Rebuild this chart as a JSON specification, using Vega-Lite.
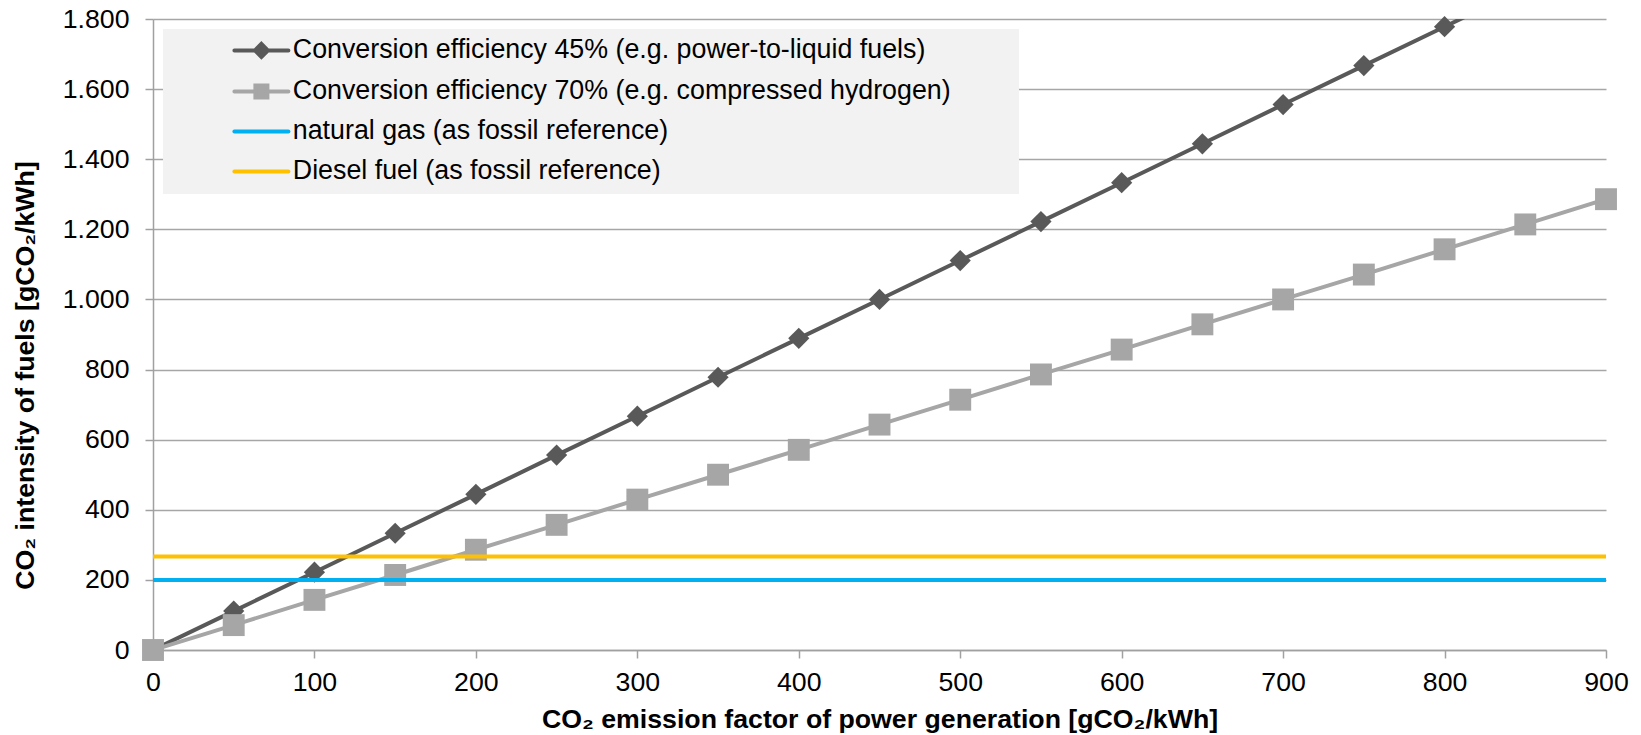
{
  "$schema": "https://vega.github.io/schema/vega-lite/v6.json",
  "width": 1453,
  "height": 631,
  "autosize": {"type": "none"},
  "padding": {"left": 153, "top": 19, "right": 35, "bottom": 85},
  "background": "#ffffff",
  "config": {
    "font": "Liberation Sans",
    "view": {"stroke": null},
    "axis": {
      "labelFont": "Liberation Sans",
      "labelFontSize": 26.7,
      "labelColor": "#000000",
      "titleFont": "Liberation Sans",
      "titleFontSize": 26.7,
      "titleFontWeight": "bold",
      "titleColor": "#000000",
      "tickColor": "#A0A0A0",
      "tickSize": 8,
      "tickWidth": 1.5,
      "domainColor": "#A0A0A0",
      "domainWidth": 1.5,
      "gridColor": "#A6A6A6",
      "gridWidth": 1.3,
      "labelFlush": false,
      "labelOverlap": false
    }
  },
  "data": {
    "values": [
      {"x": 0, "y": 0, "series": "Conversion efficiency 45% (e.g. power-to-liquid fuels)"},
      {"x": 50, "y": 111, "series": "Conversion efficiency 45% (e.g. power-to-liquid fuels)"},
      {"x": 100, "y": 222, "series": "Conversion efficiency 45% (e.g. power-to-liquid fuels)"},
      {"x": 150, "y": 333, "series": "Conversion efficiency 45% (e.g. power-to-liquid fuels)"},
      {"x": 200, "y": 444, "series": "Conversion efficiency 45% (e.g. power-to-liquid fuels)"},
      {"x": 250, "y": 556, "series": "Conversion efficiency 45% (e.g. power-to-liquid fuels)"},
      {"x": 300, "y": 667, "series": "Conversion efficiency 45% (e.g. power-to-liquid fuels)"},
      {"x": 350, "y": 778, "series": "Conversion efficiency 45% (e.g. power-to-liquid fuels)"},
      {"x": 400, "y": 889, "series": "Conversion efficiency 45% (e.g. power-to-liquid fuels)"},
      {"x": 450, "y": 1000, "series": "Conversion efficiency 45% (e.g. power-to-liquid fuels)"},
      {"x": 500, "y": 1111, "series": "Conversion efficiency 45% (e.g. power-to-liquid fuels)"},
      {"x": 550, "y": 1222, "series": "Conversion efficiency 45% (e.g. power-to-liquid fuels)"},
      {"x": 600, "y": 1333, "series": "Conversion efficiency 45% (e.g. power-to-liquid fuels)"},
      {"x": 650, "y": 1444, "series": "Conversion efficiency 45% (e.g. power-to-liquid fuels)"},
      {"x": 700, "y": 1556, "series": "Conversion efficiency 45% (e.g. power-to-liquid fuels)"},
      {"x": 750, "y": 1667, "series": "Conversion efficiency 45% (e.g. power-to-liquid fuels)"},
      {"x": 800, "y": 1778, "series": "Conversion efficiency 45% (e.g. power-to-liquid fuels)"},
      {"x": 850, "y": 1889, "series": "Conversion efficiency 45% (e.g. power-to-liquid fuels)"},
      {"x": 900, "y": 2000, "series": "Conversion efficiency 45% (e.g. power-to-liquid fuels)"},
      {"x": 0, "y": 0, "series": "Conversion efficiency 70% (e.g. compressed hydrogen)"},
      {"x": 50, "y": 71, "series": "Conversion efficiency 70% (e.g. compressed hydrogen)"},
      {"x": 100, "y": 143, "series": "Conversion efficiency 70% (e.g. compressed hydrogen)"},
      {"x": 150, "y": 214, "series": "Conversion efficiency 70% (e.g. compressed hydrogen)"},
      {"x": 200, "y": 286, "series": "Conversion efficiency 70% (e.g. compressed hydrogen)"},
      {"x": 250, "y": 357, "series": "Conversion efficiency 70% (e.g. compressed hydrogen)"},
      {"x": 300, "y": 429, "series": "Conversion efficiency 70% (e.g. compressed hydrogen)"},
      {"x": 350, "y": 500, "series": "Conversion efficiency 70% (e.g. compressed hydrogen)"},
      {"x": 400, "y": 571, "series": "Conversion efficiency 70% (e.g. compressed hydrogen)"},
      {"x": 450, "y": 643, "series": "Conversion efficiency 70% (e.g. compressed hydrogen)"},
      {"x": 500, "y": 714, "series": "Conversion efficiency 70% (e.g. compressed hydrogen)"},
      {"x": 550, "y": 786, "series": "Conversion efficiency 70% (e.g. compressed hydrogen)"},
      {"x": 600, "y": 857, "series": "Conversion efficiency 70% (e.g. compressed hydrogen)"},
      {"x": 650, "y": 929, "series": "Conversion efficiency 70% (e.g. compressed hydrogen)"},
      {"x": 700, "y": 1000, "series": "Conversion efficiency 70% (e.g. compressed hydrogen)"},
      {"x": 750, "y": 1071, "series": "Conversion efficiency 70% (e.g. compressed hydrogen)"},
      {"x": 800, "y": 1143, "series": "Conversion efficiency 70% (e.g. compressed hydrogen)"},
      {"x": 850, "y": 1214, "series": "Conversion efficiency 70% (e.g. compressed hydrogen)"},
      {"x": 900, "y": 1286, "series": "Conversion efficiency 70% (e.g. compressed hydrogen)"},
      {"x": 0, "y": 200, "series": "natural gas (as fossil reference)"},
      {"x": 900, "y": 200, "series": "natural gas (as fossil reference)"},
      {"x": 0, "y": 267, "series": "Diesel fuel (as fossil reference)"},
      {"x": 900, "y": 267, "series": "Diesel fuel (as fossil reference)"}
    ]
  },
  "encoding": {
    "x": {
      "field": "x",
      "type": "quantitative",
      "scale": {"domain": [0, 900], "nice": false, "zero": false},
      "axis": {
        "title": "CO₂ emission factor of power generation [gCO₂/kWh]",
        "values": [0, 100, 200, 300, 400, 500, 600, 700, 800, 900],
        "grid": false,
        "labelPadding": 11,
        "titlePadding": 11
      }
    },
    "y": {
      "field": "y",
      "type": "quantitative",
      "scale": {"domain": [0, 1800], "nice": false, "zero": false},
      "axis": {
        "title": "CO₂ intensity of fuels [gCO₂/kWh]",
        "values": [0, 200, 400, 600, 800, 1000, 1200, 1400, 1600, 1800],
        "grid": true,
        "labelPadding": 16,
        "titlePadding": 23,
        "titleY": 356,
        "labelExpr": "replace(format(datum.value, ','), ',', '.')"
      }
    }
  },
  "layer": [
    {
      "transform": [{"filter": {"field": "series", "equal": "Conversion efficiency 45% (e.g. power-to-liquid fuels)"}}],
      "mark": {"type": "line", "strokeWidth": 4, "clip": true},
      "encoding": {
        "color": {
          "field": "series",
          "type": "nominal",
          "scale": {
            "domain": [
              "Conversion efficiency 45% (e.g. power-to-liquid fuels)",
              "Conversion efficiency 70% (e.g. compressed hydrogen)",
              "natural gas (as fossil reference)",
              "Diesel fuel (as fossil reference)"
            ],
            "range": ["#595959", "#A6A6A6", "#00B0F0", "#FFC000"]
          },
          "legend": {
            "orient": "none",
            "legendX": 10,
            "legendY": 10,
            "direction": "vertical",
            "title": null,
            "fillColor": "#F2F2F2",
            "padding": 8,
            "labelFont": "Liberation Sans",
            "labelFontSize": 26.8,
            "labelColor": "#000000",
            "labelLimit": 2000,
            "labelOffset": 18,
            "symbolOffset": 77,
            "symbolSize": 400,
            "symbolStrokeWidth": 4,
            "rowPadding": 12,
            "labelExpr": "datum.label + '\u2800\u2800\u2800'",
            "encode": {
              "symbols": {
                "update": {
                  "shape": {"signal": "datum.index === 0 ? 'M-2.7,0H2.7M0,-0.65L0.65,0L0,0.65L-0.65,0Z' : (datum.index === 1 ? 'M-2.7,0H2.7M-0.6,-0.6H0.6V0.6H-0.6Z' : 'M-2.7,0H2.7')"},
                  "fill": {"signal": "datum.index === 0 ? '#595959' : (datum.index === 1 ? '#A6A6A6' : 'transparent')"},
                  "opacity": {"value": 1},
                  "strokeCap": {"value": "round"}
                }
              }
            }
          }
        }
      }
    },
    {
      "transform": [{"filter": {"and": [{"field": "series", "equal": "Conversion efficiency 45% (e.g. power-to-liquid fuels)"}, {"field": "y", "lte": 1800}]}}],
      "mark": {"type": "point", "shape": "diamond", "filled": true, "size": 450, "opacity": 1, "color": "#595959"}
    },
    {
      "transform": [{"filter": {"field": "series", "equal": "Conversion efficiency 70% (e.g. compressed hydrogen)"}}],
      "mark": {"type": "line", "strokeWidth": 4, "clip": true},
      "encoding": {"color": {"field": "series", "type": "nominal"}}
    },
    {
      "transform": [{"filter": {"field": "series", "equal": "Conversion efficiency 70% (e.g. compressed hydrogen)"}}],
      "mark": {"type": "point", "shape": "square", "filled": true, "size": 480, "opacity": 1, "color": "#A6A6A6"}
    },
    {
      "transform": [{"filter": {"field": "series", "oneOf": ["natural gas (as fossil reference)", "Diesel fuel (as fossil reference)"]}}],
      "mark": {"type": "line", "strokeWidth": 4},
      "encoding": {"color": {"field": "series", "type": "nominal"}}
    }
  ]
}
